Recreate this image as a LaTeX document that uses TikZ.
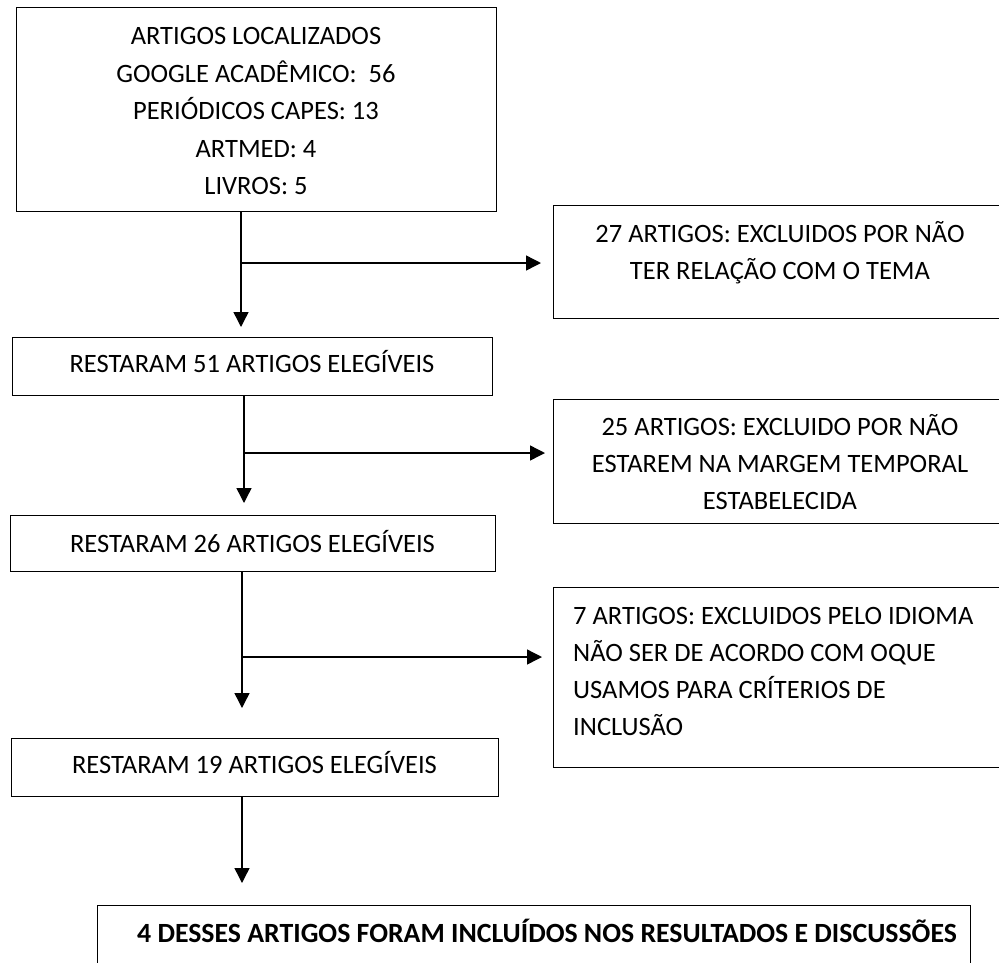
\documentclass[tikz,border=0pt]{standalone}
\usepackage{fontspec}
\setmainfont{Carlito}
\usetikzlibrary{arrows.meta}
\tikzset{
    box/.style={draw,line width=1.4pt,anchor=north west,inner sep=0pt},
    txt/.style={inner sep=0pt,anchor=north,align=center,font=\fontsize{26.5}{37}\selectfont},
    flow/.style={line width=1.4pt,->}
}
\begin{document}
\begin{tikzpicture}[x=1pt,y=-1pt,>={Triangle[length=15pt,width=15pt]}]
\useasboundingbox (0,0) rectangle (999,962);
    \node[box,minimum width=480,minimum height=204] (found) at (16,7) {};
    \node[box,minimum width=480,minimum height=58] (r51) at (12,337) {};
    \node[box,minimum width=485,minimum height=56] (r26) at (10,515) {};
    \node[box,minimum width=487,minimum height=58] (r19) at (11,738) {};
    \node[box,minimum width=470,minimum height=113] (ex1) at (553,205) {};
    \node[box,minimum width=470,minimum height=124] (ex2) at (553,399) {};
    \node[box,minimum width=470,minimum height=180] (ex3) at (553,587) {};
    \node[box,minimum width=873,minimum height=80] (final) at (97,905) {};
    \node[txt,font=\fontsize{26.5}{37.5}\selectfont] (foundtxt) at (256,18.1)
        {\strut ARTIGOS LOCALIZADOS\\GOOGLE ACADÊMICO:\ \ 56\\PERIÓDICOS CAPES: 13\\ARTMED: 4\\LIVROS: 5};
    \node[txt] (r51txt) at (252,346.1) {\strut RESTARAM 51 ARTIGOS ELEGÍVEIS};
    \node[txt] (r26txt) at (252.5,526.1) {\strut RESTARAM 26 ARTIGOS ELEGÍVEIS};
    \node[txt] (r19txt) at (254.5,747.1) {\strut RESTARAM 19 ARTIGOS ELEGÍVEIS};
    \node[txt] (ex1txt) at (780,216.1) {\strut 27 ARTIGOS: EXCLUIDOS POR NÃO\\TER RELAÇÃO COM O TEMA};
    \node[txt] (ex2txt) at (780,409.1) {\strut 25 ARTIGOS: EXCLUIDO POR NÃO\\ESTAREM NA MARGEM TEMPORAL\\ESTABELECIDA};
    \node[txt,anchor=north west,align=left] (ex3txt) at (573,598.1)
        {\strut 7 ARTIGOS: EXCLUIDOS PELO IDIOMA\\NÃO SER DE ACORDO COM OQUE\\USAMOS PARA CRÍTERIOS DE\\INCLUSÃO};
    \node[txt,font=\fontsize{27.8}{37}\selectfont\bfseries] (finaltxt) at (547,916.1)
        {\strut 4 DESSES ARTIGOS FORAM INCLUÍDOS NOS RESULTADOS E DISCUSSÕES};
    \coordinate (s1) at (241,263);
    \coordinate (s2) at (244,453);
    \coordinate (s3) at (242,657);
    \coordinate (s4) at (242,850);
    \draw[flow,shorten >=10pt] (found.south -| s1) -- (r51.north -| s1);
    \draw[flow,shorten >=12pt] (s1) -- (ex1.west |- s1);
    \draw[flow,shorten >=12pt] (r51.south -| s2) -- (r26.north -| s2);
    \draw[flow,shorten >=8pt] (s2) -- (ex2.west |- s2);
    \draw[flow,shorten >=30pt] (r26.south -| s3) -- (r19.north -| s3);
    \draw[flow,shorten >=11pt] (s3) -- (ex3.west |- s3);
    \draw[flow,shorten >=22pt] (r19.south -| s4) -- (final.north -| s4);
\end{tikzpicture}
\end{document}
